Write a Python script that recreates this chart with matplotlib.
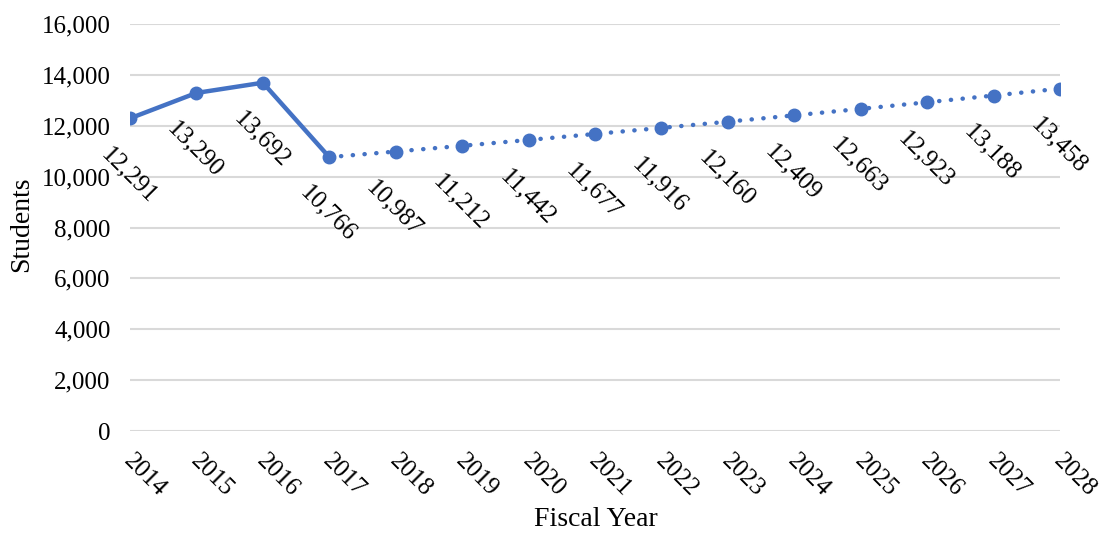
import matplotlib
matplotlib.use("Agg")
import matplotlib.pyplot as plt
from matplotlib.ticker import FuncFormatter, MultipleLocator
from matplotlib.transforms import ScaledTranslation

years = ["2014", "2015", "2016", "2017", "2018", "2019", "2020", "2021",
         "2022", "2023", "2024", "2025", "2026", "2027", "2028"]
students = [12291, 13290, 13692, 10766, 10987, 11212, 11442, 11677,
            11916, 12160, 12409, 12663, 12923, 13188, 13458]
actual_count = 4  # 2014-2017 are actual, the rest projected

plt.rcParams["font.family"] = ["Liberation Serif", "DejaVu Serif"]
color = "#4472C4"
fs = 18

fig = plt.figure(figsize=(11.01, 5.33), dpi=100)
ax = fig.add_axes([130 / 1101, 1 - 431 / 533, 930 / 1101, 407 / 533])

x = list(range(len(years)))
ax.plot(x[:actual_count], students[:actual_count], color=color, lw=3.2,
        solid_capstyle="round", zorder=3)
ax.plot(x[actual_count - 1:], students[actual_count - 1:], color=color, lw=3.2,
        linestyle=(0, (0.05, 2.6)), dash_capstyle="round", zorder=3)
ax.plot(x, students, linestyle="none", marker="o", markersize=9,
        color=color, zorder=4)

for xi, v in zip(x, students):
    ax.annotate(f"{v:,}", (xi, v), xytext=(-1, -41), textcoords="offset points",
                rotation=-45, rotation_mode="anchor", ha="center", va="center",
                fontsize=fs, color="black", zorder=5)

ax.set_xlim(0, len(years) - 1)
ax.set_ylim(0, 16000)
ax.yaxis.set_major_locator(MultipleLocator(2000))
ax.yaxis.set_major_formatter(FuncFormatter(lambda v, p: f"{int(v):,}"))
ax.tick_params(axis="x", length=0, pad=14)
ax.tick_params(axis="y", length=0, pad=14, labelsize=fs)
ax.set_xticks(x)
ax.set_xticklabels(years, rotation=-45, rotation_mode="anchor",
                   ha="left", va="top", fontsize=fs)
shift = ScaledTranslation(5 / 100, 0, fig.dpi_scale_trans)
for lbl in ax.get_xticklabels():
    lbl.set_transform(lbl.get_transform() + shift)
ax.grid(axis="y", color="#d9d9d9", lw=1.5)
ax.set_axisbelow(True)
for s in ax.spines.values():
    s.set_visible(False)

fig.text(22 / 1101, 1 - 224 / 533, "Students", rotation=90, ha="center",
         va="center", fontsize=20)
fig.text(596 / 1101, 1 - 520 / 533, "Fiscal Year", ha="center", va="center",
         fontsize=20)

fig.savefig("out.png", dpi=100)
